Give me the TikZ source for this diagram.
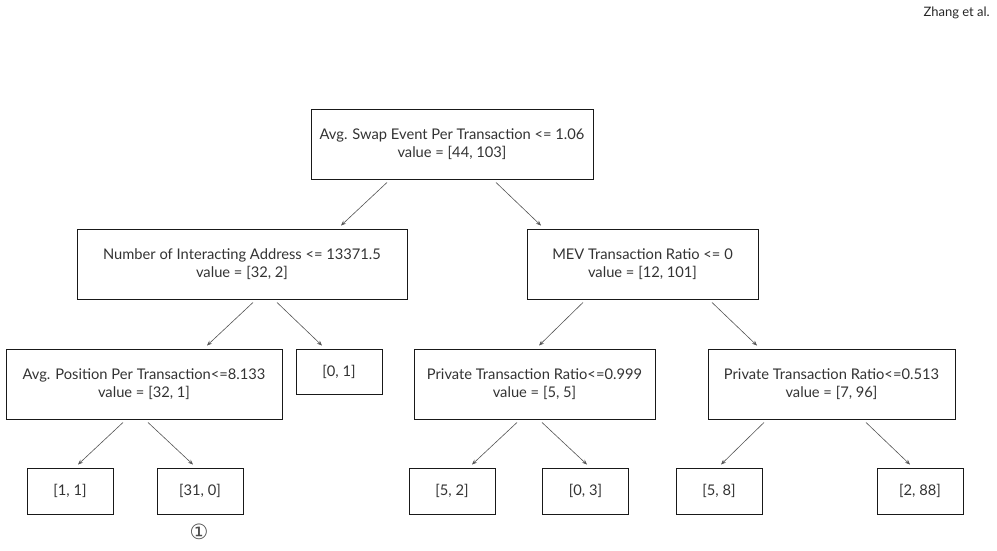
\documentclass[tikz,border=0pt]{standalone}
\usepackage{fontspec}
\setmainfont{Lato}
\newfontfamily\dejavu{DejaVu Sans}
\usetikzlibrary{arrows.meta}
\definecolor{txt}{HTML}{333333}
\definecolor{arrc}{HTML}{555555}
\tikzset{
  box/.style={draw=black!90, line width=0.9pt, inner sep=0pt, align=center, text=txt,
    font=\fontsize{14.7}{18.5}\selectfont},
  leaf/.style={box, minimum width=86pt, minimum height=46pt},
  arr/.style={draw=arrc, line width=0.6pt, -{Stealth[length=5pt,width=4pt]}}
}
\begin{document}
\begin{tikzpicture}[x=1pt,y=-1pt]
\useasboundingbox (0,0) rectangle (997,550);
\node[box, minimum width=282pt, minimum height=70pt] (root) at (452,144) {Avg. Swap Event Per Transaction <= 1.06\\value = [44, 103]};
\node[box, minimum width=330pt, minimum height=70pt] (num) at (242,264) {Number of Interacting Address <= 13371.5\\value = [32, 2]};
\node[box, minimum width=231pt, minimum height=70pt] (mev) at (642.5,264) {MEV Transaction Ratio <= 0\\value = [12, 101]};
\node[box, minimum width=276pt, minimum height=70pt] (avgp) at (144,384) {Avg. Position Per Transaction<=8.133\\value = [32, 1]};
\node[leaf, minimum height=45pt] (zero1) at (339,371.5) {[0, 1]};
\node[box, minimum width=241pt, minimum height=70pt] (p999) at (534.5,384) {Private Transaction Ratio<=0.999\\value = [5, 5]};
\node[box, minimum width=247pt, minimum height=70pt] (p513) at (831.5,384) {Private Transaction Ratio<=0.513\\value = [7, 96]};
\node[leaf] (l11) at (70,491) {[1, 1]};
\node[leaf] (l310) at (200,491) {[31, 0]};
\node[leaf] (l52) at (452,491) {[5, 2]};
\node[leaf] (l03) at (585.5,491) {[0, 3]};
\node[leaf] (l58) at (719,491) {[5, 8]};
\node[leaf] (l288) at (920,491) {[2, 88]};
\node[text=black!70, font=\dejavu\fontsize{21}{21}\selectfont, inner sep=0pt] (circ) at (199,532) {①};
\node[text=black!85, font=\fontsize{13}{14}\selectfont, inner sep=0pt, anchor=east] (auth) at (990,13) {Zhang et al.};
\draw[arr] ([shift={(-65,3)}]root.south) -- ([shift={(99,-3)}]num.north);
\draw[arr] ([shift={(44,3)}]root.south) -- ([shift={(-101.5,-3)}]mev.north);
\draw[arr] ([shift={(11,3)}]num.south) -- ([shift={(63,-3)}]avgp.north);
\draw[arr] ([shift={(35,3)}]num.south) -- ([shift={(-17,-3)}]zero1.north);
\draw[arr] ([shift={(-59.5,3)}]mev.south) -- ([shift={(4.5,-3)}]p999.north);
\draw[arr] ([shift={(69.5,3)}]mev.south) -- ([shift={(-74.5,-3)}]p513.north);
\draw[arr] ([shift={(-21,3)}]avgp.south) -- ([shift={(8,-3)}]l11.north);
\draw[arr] ([shift={(4,3)}]avgp.south) -- ([shift={(-7,-3)}]l310.north);
\draw[arr] ([shift={(-17.5,3)}]p999.south) -- ([shift={(20,-3)}]l52.north);
\draw[arr] ([shift={(7.5,3)}]p999.south) -- ([shift={(1.5,-3)}]l03.north);
\draw[arr] ([shift={(-67.5,3)}]p513.south) -- ([shift={(2,-3)}]l58.north);
\draw[arr] ([shift={(34.5,3)}]p513.south) -- ([shift={(-10,-3)}]l288.north);
\end{tikzpicture}
\end{document}
